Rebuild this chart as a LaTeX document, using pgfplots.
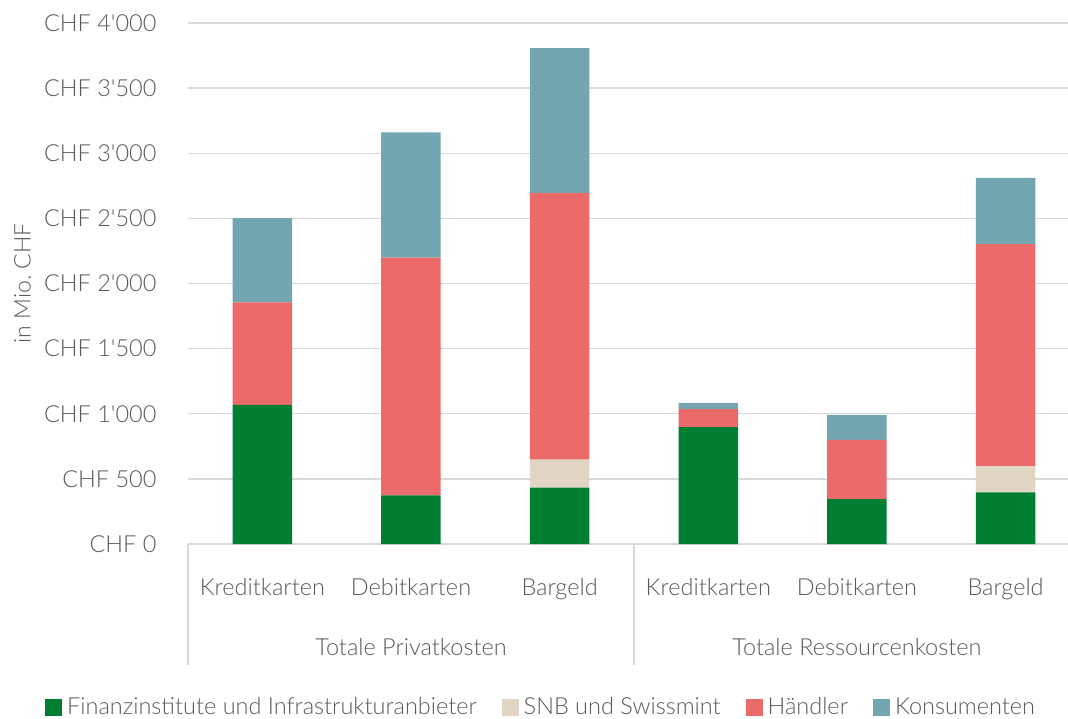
\documentclass[border=0pt]{standalone}
\usepackage{pgfplots}
\pgfplotsset{compat=1.18}
\usepackage{fontspec}
\setmainfont{Lato Light}

\definecolor{cgreen}{HTML}{007F32}
\definecolor{cbeige}{HTML}{E0D6C3}
\definecolor{cred}{HTML}{EB6A6A}
\definecolor{cteal}{HTML}{73A6B0}
\definecolor{cgrid}{HTML}{D9D9D9}
\definecolor{ctext}{HTML}{595959}

\newcommand{\q}{\textquotesingle}

\begin{document}
\begin{tikzpicture}[x=1pt,y=1pt]
\useasboundingbox[clip] (0,0) rectangle (1068,718);
\begin{axis}[
  at={(188pt,174pt)}, anchor=south west,
  scale only axis, width=880pt, height=521pt,
  ybar stacked, bar width=0.4,
  xmin=-0.5, xmax=5.42,
  ymin=0, ymax=4000,
  clip=false,
  axis line style={draw=none},
  major tick length=0pt,
  font=\fontsize{23.5}{28}\selectfont,
  every tick label/.append style={text=ctext},
  ytick={0,500,...,4000},
  yticklabels={CHF 0,CHF 500,CHF 1\q000,CHF 1\q500,CHF 2\q000,CHF 2\q500,CHF 3\q000,CHF 3\q500,CHF 4\q000},
  yticklabel style={anchor=east, xshift=-28pt},
  ymajorgrids, grid style={cgrid, line width=1.4pt},
  xtick={0,...,5},
  xticklabels={Kreditkarten,Debitkarten,Bargeld,Kreditkarten,Debitkarten,Bargeld},
  xticklabel style={anchor=base, yshift=-51pt},
  ylabel={in Mio.\ CHF},
  ylabel style={at={(axis description cs:-0.188,0.5)}, anchor=center,
    font=\fontsize{23}{27}\selectfont, text=ctext},
  legend columns=4,
  legend cell align=left,
  legend style={at={(axis description cs:0.403,-0.313)}, anchor=center,
    draw=none, fill=none, text=ctext, inner sep=0pt,
    /tikz/every even column/.append style={column sep=20pt},
    nodes={inner xsep=5pt}},
  legend image code/.code={\fill[#1] (0pt,-8.5pt) rectangle (17pt,8.5pt);},
]
% Finanzinstitute und Infrastrukturanbieter
\addplot[fill=cgreen, draw=none] coordinates {(0,1069) (1,373) (2,432) (3,898) (4,344) (5,397)};
% SNB und Swissmint
\addplot[fill=cbeige, draw=none] coordinates {(0,0) (1,0) (2,215) (3,0) (4,0) (5,200)};
% Haendler
\addplot[fill=cred, draw=none] coordinates {(0,787) (1,1825) (2,2049) (3,138) (4,456) (5,1705)};
% Konsumenten
\addplot[fill=cteal, draw=none] coordinates {(0,646) (1,962) (2,1112) (3,47) (4,192) (5,508)};
\legend{Finanzinstitute und Infrastrukturanbieter, SNB und Swissmint, Händler, Konsumenten}

% group separators and group labels
\draw[cgrid, line width=1.4pt] (axis cs:-0.5,0) -- ([yshift=-121pt]axis cs:-0.5,0);
\draw[cgrid, line width=1.4pt] (axis cs:2.5,0) -- ([yshift=-121pt]axis cs:2.5,0);
\node[anchor=base, text=ctext, yshift=-111pt] at (axis cs:1,0) {Totale Privatkosten};
\node[anchor=base, text=ctext, yshift=-111pt] at (axis cs:4,0) {Totale Ressourcenkosten};
\end{axis}
\end{tikzpicture}
\end{document}
